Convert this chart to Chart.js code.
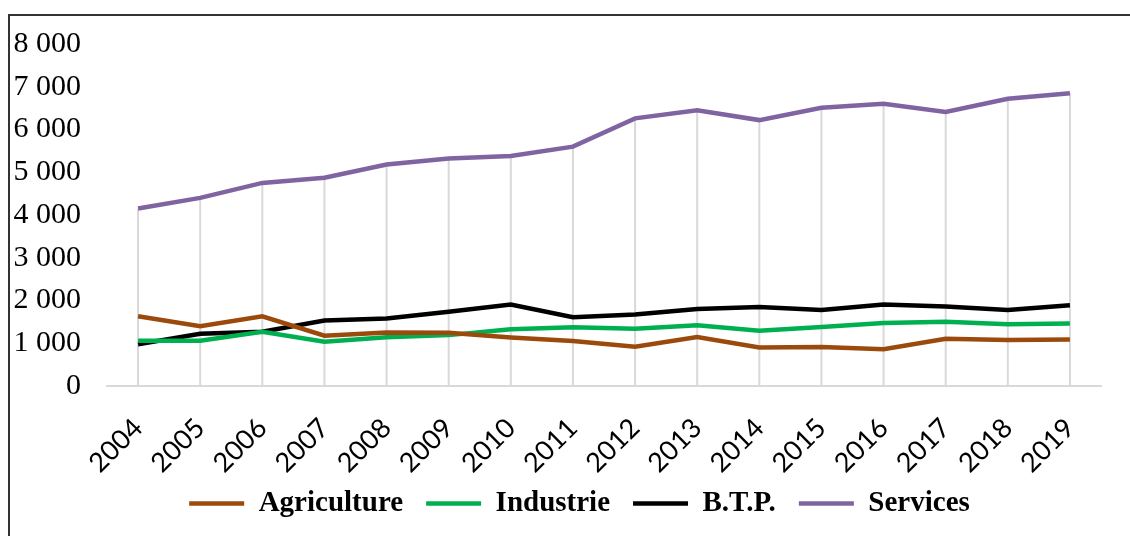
<!DOCTYPE html>
<html>
<head>
<meta charset="utf-8">
<script src="https://cdn.jsdelivr.net/npm/chart.js@4.4.1/dist/chart.umd.min.js"></script>
<style>
  html, body { margin: 0; padding: 0; background: #fff; }
  #wrap { position: relative; width: 1130px; height: 536px; overflow: hidden; }
  #frame { position: absolute; left: 8px; top: 14px; right: -10px; bottom: -10px;
           border-top: 2px solid #333; border-left: 2px solid #333; }
  #box { position: absolute; left: 0; top: 0; width: 1130px; height: 536px; }
</style>
</head>
<body>
<div id="wrap">
  <div id="frame"></div>
  <div id="box"><canvas id="chart"></canvas></div>
</div>
<script>
// Years on the category axis
const years = ['2004', '2005', '2006', '2007', '2008', '2009', '2010', '2011',
               '2012', '2013', '2014', '2015', '2016', '2017', '2018', '2019'];

// Values
const agriculture = [1630, 1400, 1630, 1175, 1250, 1245, 1135, 1050,
                     920, 1145, 900, 915, 860, 1105, 1075, 1085];
const industrie = [1060, 1060, 1270, 1035, 1140, 1190, 1330, 1375,
                   1340, 1420, 1290, 1380, 1475, 1500, 1445, 1460];
const btp = [975, 1220, 1270, 1530, 1580, 1735, 1905, 1610,
             1670, 1800, 1850, 1780, 1905, 1860, 1780, 1890];
const services = [4150, 4400, 4750, 4870, 5180, 5320, 5380, 5600,
                  6260, 6450, 6220, 6510, 6600, 6410, 6720, 6850];

// y axis ticks
const yMin = 0;
const yMax = 8000;
const yStep = 1000;

function frNumber(v) {
    return String(v).replace(/\B(?=(\d{3})+(?!\d))/g, ' ');
}

// drop lines from the top series down to the axis, like in Excel
const dropLines = {
    id: 'dropLines',
    beforeDatasetsDraw(chart) {
        const meta = chart.getDatasetMeta(3);
        const ctx = chart.ctx;
        const bottom = chart.chartArea.bottom;
        ctx.save();
        ctx.strokeStyle = '#d9d9d9';
        ctx.lineWidth = 2;
        meta.data.forEach(pt => {
            ctx.beginPath();
            ctx.moveTo(pt.x, pt.y);
            ctx.lineTo(pt.x, bottom);
            ctx.stroke();
        });
        ctx.restore();
    }
};

function line(label, data, color) {
    return {
        label: label,
        data: data,
        borderColor: color,
        backgroundColor: color,
        borderWidth: 4.5,
        pointRadius: 0,
        tension: 0,
        fill: false,
        pointStyle: 'line'
    };
}

// labels are allowed to spill out of their axis box
const noClip = () => undefined;

const ctx = document.getElementById('chart').getContext('2d');
const chart = new Chart(ctx, {
    type: 'line',
    data: {
        labels: years,
        datasets: [
            line('Agriculture', agriculture, '#9c4a0c'),
            line('Industrie', industrie, '#00b050'),
            line('B.T.P.', btp, '#000000'),
            line('Services', services, '#8064a2')
        ]
    },
    plugins: [dropLines],
    options: {
        responsive: true,
        maintainAspectRatio: false,
        animation: false,
        layout: {
            padding: { left: 58, right: 29, top: 16, bottom: 8 }
        },
        plugins: {
            tooltip: { enabled: false },
            legend: {
                position: 'bottom',
                labels: {
                    usePointStyle: true,
                    pointStyleWidth: 55,
                    padding: 23,
                    color: '#000',
                    font: { family: '"Liberation Serif", "Times New Roman", serif', size: 29, weight: 'bold' }
                }
            }
        },
        scales: {
            x: {
                offset: true,
                grid: { display: false, drawTicks: false },
                border: { display: true, color: '#d9d9d9', width: 2 },
                ticks: {
                    minRotation: 45,
                    maxRotation: 45,
                    padding: 26,
                    color: '#000',
                    font: { family: 'Lato, "Liberation Sans", sans-serif', size: 27 }
                },
                afterFit(scale) {
                    scale.height = 80;
                    scale._computeLabelArea = noClip;
                }
            },
            y: {
                min: yMin,
                max: yMax,
                grid: { display: false, drawTicks: false },
                border: { display: false },
                ticks: {
                    stepSize: yStep,
                    padding: 26,
                    color: '#000',
                    font: { family: '"Liberation Serif", "Times New Roman", serif', size: 30 },
                    callback: v => frNumber(v)
                },
                afterFit(scale) {
                    scale.width = 49;
                    scale._computeLabelArea = noClip;
                }
            }
        }
    }
});
</script>
</body>
</html>
